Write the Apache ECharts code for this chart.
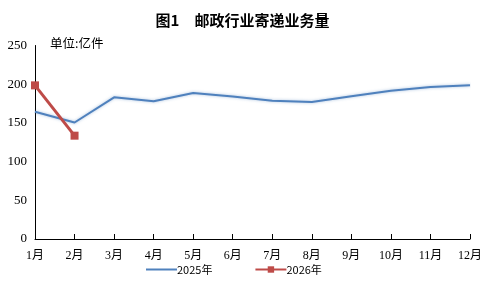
<!DOCTYPE html>
<html><head><meta charset="utf-8">
<script src="https://cdn.jsdelivr.net/npm/echarts@6/dist/echarts.min.js"></script>
<style>html,body{margin:0;padding:0;background:#fff}#c{width:485px;height:281px}</style>
</head><body><div id="c"></div>
<script>
const categories = ['1月','2月','3月','4月','5月','6月','7月','8月','9月','10月','11月','12月'];
const values2025 = [164.5, 150.5, 183, 178, 188.5, 184, 178.5, 177, 184.5, 191.5, 196.5, 198.5];
const values2026 = [198.5, 133.5];
const yTicks = [0, 50, 100, 150, 200, 250];
const serif = '"Liberation Serif", "Times New Roman", "Noto Sans CJK SC", serif';
const chart = echarts.init(document.getElementById('c'));
chart.setOption({
  animation: false,
  title: {
    text: '图1　邮政行业寄递业务量', left: 'center', top: 8,
    textStyle: {fontSize: 15, fontWeight: 'bold', color: '#000', fontFamily: '"Noto Sans CJK SC", sans-serif'}
  },
  graphic: [{type: 'text', left: 50, top: 37, style: {text: '单位:亿件', fontSize: 12.5, fill: '#000', fontFamily: '"Noto Sans CJK SC", sans-serif'}}],
  legend: {
    bottom: 1, left: 140, itemGap: 42, itemWidth: 31, itemHeight: 8,
    textStyle: {fontSize: 11, color: '#000', fontFamily: '"Noto Sans CJK SC", sans-serif', padding: [0,0,0,-5]},
    data: [{name: '2025年', itemStyle: {opacity: 0}}, {name: '2026年'}]
  },
  grid: {left: 35, right: 8, top: 45.5, bottom: 42, containLabel: false},
  xAxis: {
    type: 'category', data: categories, boundaryGap: false,
    axisLine: {lineStyle: {color: '#000', width: 1}},
    axisTick: {inside: true, length: 5, lineStyle: {color: '#000'}},
    axisLabel: {color: '#000', fontSize: 12, margin: 11, fontFamily: serif}
  },
  yAxis: {
    type: 'value', min: yTicks[0], max: yTicks[yTicks.length-1], interval: 50,
    splitLine: {show: false},
    axisLine: {show: true, lineStyle: {color: '#000', width: 1}},
    axisTick: {show: false},
    axisLabel: {color: '#000', fontSize: 13, margin: 8, fontFamily: serif}
  },
  series: [
    {name: '2025年', type: 'line', data: values2025, symbol: 'none', smooth: false,
     lineStyle: {color: '#4f81bd', width: 2, shadowColor: 'rgba(79,129,189,0.5)', shadowBlur: 3},
     itemStyle: {color: '#4f81bd'}},
    {name: '2026年', type: 'line', data: values2026, symbol: 'rect', symbolSize: 8,
     lineStyle: {color: '#be4b48', width: 3}, itemStyle: {color: '#be4b48'}}
  ]
});
</script></body></html>
